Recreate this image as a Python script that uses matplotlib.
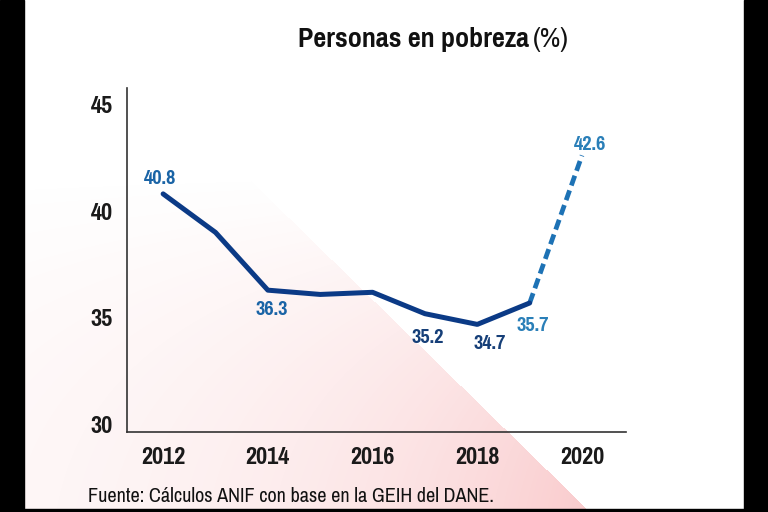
import numpy as np
import matplotlib
matplotlib.use("Agg")
from matplotlib import pyplot as plt
from matplotlib.patches import Rectangle

# datos (% de personas en pobreza)
anios = [2012, 2013, 2014, 2015, 2016, 2017, 2018, 2019]
pobreza = [40.8, 39.0, 36.3, 36.1, 36.2, 35.2, 34.7, 35.7]
anios_proy = [2019, 2020]
pobreza_proy = [35.7, 42.6]

# etiquetas que aparecen sobre la linea
etiquetas_anios = [2012, 2014, 2017, 2018, 2019, 2020]
etiquetas_valores = [40.8, 36.3, 35.2, 34.7, 35.7, 42.6]
etiquetas_texto = ["40.8", "36.3", "35.2", "34.7", "35.7", "42.6"]
etiquetas_off = [(-2, 11), (3, -14), (2, -17), (9, -14), (2, -16), (6, 8)]
etiquetas_color = ["#1a64a6", "#1a64a6", "#163f78", "#163f78", "#2a7fb8", "#2a7fb8"]

ticks_x = [2012, 2014, 2016, 2018, 2020]
ticks_y = [30, 35, 40, 45]

FUENTE = ["Pragati Narrow", "DejaVu Sans"]
W, H = 768, 512

fig = plt.figure(figsize=(7.68, 5.12), dpi=100, facecolor="white")

# fondo: cuña rosada degradada
fondo = fig.add_axes([0, 0, 1, 1], zorder=-10)
fondo.set_xlim(0, W)
fondo.set_ylim(H, 0)
fondo.axis("off")
yy, xx = np.mgrid[0:H, 0:W]
dx, dy = 345.0, 337.0
nrm = np.hypot(dx, dy)
s = ((xx - 245) * dy - (yy - 175) * dx) / nrm  # >0 a la derecha de la diagonal
t = np.clip((yy - 170) / 340.0, 0, 1)
alfa = np.where(s < 0, 0.34 * t ** 1.3 * np.exp(s / 220.0), 0)
img = np.zeros((H, W, 4))
img[..., 0] = 0.94
img[..., 1] = 0.40
img[..., 2] = 0.42
img[..., 3] = alfa
fondo.imshow(img, extent=(0, W, H, 0), interpolation="bilinear")

# bordes negros del recorte
fondo.add_patch(Rectangle((0, 0), 24, H, color="black"))
fondo.add_patch(Rectangle((744, 0), W - 744, H, color="black"))
fondo.add_patch(Rectangle((0, 509), W, 3, color="black"))

ax = fig.add_axes([127 / W, 1 - 432 / H, (626 - 127) / W, (432 - 88) / H])
ax.patch.set_alpha(0)
ax.plot(anios, pobreza, color="#0b3a86", lw=3.6, solid_capstyle="round",
        solid_joinstyle="round", zorder=3)
ax.plot(anios_proy, pobreza_proy, color="#1d72b5", lw=3.4, ls=(0, (2.2, 1.1)),
        zorder=2)

for a, v, txt, off, c in zip(etiquetas_anios, etiquetas_valores, etiquetas_texto,
                             etiquetas_off, etiquetas_color):
    ax.annotate(txt, (a, v), xytext=off, textcoords="offset points",
                ha="center", va="center", fontsize=16, fontweight="bold",
                color=c, family=FUENTE)

ax.set_xlim(2011.31, 2020.84)
ax.set_ylim(29.67, 45.75)
ax.set_xticks(ticks_x)
ax.set_yticks(ticks_y)
ax.tick_params(length=0, labelsize=19, colors="#1a1a1a")
ax.tick_params(axis="x", pad=11)
ax.tick_params(axis="y", pad=10)
for lab in ax.get_xticklabels() + ax.get_yticklabels():
    lab.set_fontweight("bold")
    lab.set_family(FUENTE)
for lado in ["top", "right"]:
    ax.spines[lado].set_visible(False)
for lado in ["left", "bottom"]:
    ax.spines[lado].set_color("#333333")
    ax.spines[lado].set_linewidth(1.2)

fig.text(529 / W, 1 - 40 / H, "Personas en pobreza", ha="right", va="center",
         fontsize=22, fontweight="bold", family=FUENTE, color="#111111")
fig.text(533 / W, 1 - 40 / H, "(%)", ha="left", va="center",
         fontsize=22, family=FUENTE, color="#111111")
fig.text(88 / W, 1 - 497 / H, "Fuente: Cálculos ANIF con base en la GEIH del DANE.",
         ha="left", va="center", fontsize=15.8, family=FUENTE, color="#111111")

fig.savefig("out.png", dpi=100, facecolor="white")
